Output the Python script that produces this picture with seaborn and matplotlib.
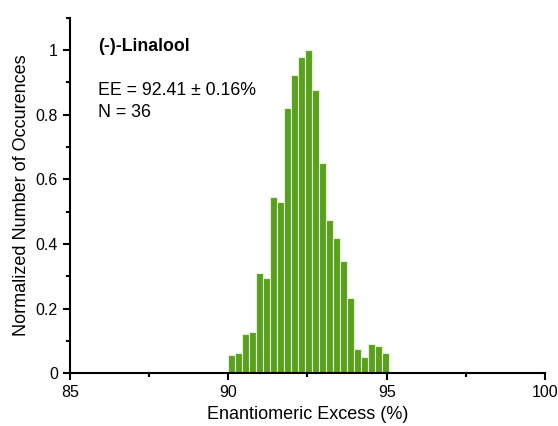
import matplotlib

matplotlib.use("Agg")
import matplotlib.pyplot as plt
import numpy as np
import pandas as pd
import seaborn as sns
from matplotlib.ticker import MultipleLocator

sns.set_style("ticks")
plt.rcParams["font.family"] = ["Liberation Sans", "DejaVu Sans"]
plt.rcParams["text.color"] = "black"
plt.rcParams["axes.labelcolor"] = "black"
plt.rcParams["xtick.color"] = "black"
plt.rcParams["ytick.color"] = "black"

# histogram bins (left edge 90.0, width 0.22) and normalized counts
bin_start = 90.0
bin_width = 0.22
heights = [0.056, 0.063, 0.121, 0.127, 0.311, 0.296, 0.546, 0.530, 0.822, 0.923,
           0.979, 1.0, 0.878, 0.652, 0.474, 0.417, 0.348, 0.233, 0.076, 0.049,
           0.090, 0.084, 0.063]
edges = bin_start + bin_width * np.arange(len(heights) + 1)
centers = (edges[:-1] + edges[1:]) / 2
df = pd.DataFrame({"ee": centers, "norm": heights})

fig = plt.figure(figsize=(5.58, 4.26), dpi=100)
ax = fig.add_axes([0.125, 0.124, 0.852, 0.834])
sns.histplot(data=df, x="ee", weights="norm", bins=list(edges), color="#58a01e",
             alpha=1, edgecolor="#e6f2d8", linewidth=0.8, ax=ax)

ax.set_xlim(85, 100)
ax.set_ylim(0, 1.1)
ax.xaxis.set_major_locator(MultipleLocator(5))
ax.xaxis.set_minor_locator(MultipleLocator(2.5))
ax.yaxis.set_minor_locator(MultipleLocator(0.1))
ax.set_yticks([0, 0.2, 0.4, 0.6, 0.8, 1.0])
ax.set_yticklabels(["0", "0.2", "0.4", "0.6", "0.8", "1"])
ax.tick_params(which="major", length=5, width=1.5, labelsize=11.5, color="black")
ax.tick_params(which="minor", length=3, width=1.5, color="black")
for s in ["left", "bottom"]:
    ax.spines[s].set_linewidth(1.5)
    ax.spines[s].set_color("black")
sns.despine(ax=ax)

ax.set_xlabel("Enantiomeric Excess (%)", fontsize=13)
ax.set_ylabel("Normalized Number of Occurences", fontsize=13)

ax.text(85.9, 1.01, "(-)-Linalool", fontsize=12.8, fontweight="bold", va="center")
ax.text(85.9, 0.876, "EE = 92.41 ± 0.16%", fontsize=12.8, va="center")
ax.text(85.9, 0.806, "N = 36", fontsize=12.8, va="center")

fig.savefig("out.png", dpi=100)
